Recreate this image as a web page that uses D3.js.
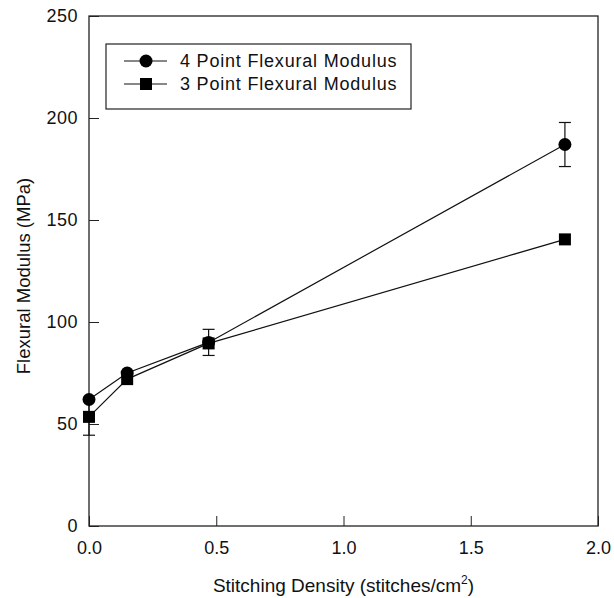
<!DOCTYPE html>
<html lang="en">
<head>
  <meta charset="UTF-8">
  <title>Flexural Modulus</title>
  <script src="https://cdn.jsdelivr.net/npm/d3@7"></script>
</head>
<body style="margin:0; background-color:#fff;">
<script>
  // stitching density (stitches/cm2)
  const density = [0.0, 0.15, 0.47, 1.87];
  // 4 point flexural modulus (MPa) and its error
  const fourPoint = [62, 75, 90, 187];
  const fourPointErr = [0, 0, 6.4, 10.8];
  // 3 point flexural modulus (MPa) and its error
  const threePoint = [53.5, 72, 89.5, 140.5];
  const threePointErr = [9, 0, 0, 0];
  const seriesNames = ["4 Point Flexural Modulus", "3 Point Flexural Modulus"];
  const xTicks = [0, 0.5, 1.0, 1.5, 2.0];
  const yTicks = [0, 50, 100, 150, 200, 250];

  const width = 614;
  const height = 598;
  const plotLeft = 89, plotRight = 598, plotTop = 16, plotBottom = 526;
  const font = "'Liberation Sans', Arial, sans-serif";

  const xScale = d3.scaleLinear().domain([0, 2]).range([plotLeft, plotRight]);
  const yScale = d3.scaleLinear().domain([0, 250]).range([plotBottom, plotTop]);

  const svg = d3.select("body")
    .append("svg")
    .attr("width", width)
    .attr("height", height)
    .style("display", "block")
    .style("font-family", font);

  // frame
  svg.append("rect")
    .attr("x", plotLeft)
    .attr("y", plotTop)
    .attr("width", plotRight - plotLeft)
    .attr("height", plotBottom - plotTop)
    .attr("fill", "none")
    .attr("stroke", "#222")
    .attr("stroke-width", 1.3);

  const xAxis = svg.append("g")
    .attr("transform", `translate(0, ${plotBottom})`)
    .call(d3.axisBottom(xScale).tickValues(xTicks).tickFormat(d3.format(".1f"))
      .tickSizeInner(-10).tickSizeOuter(0).tickPadding(15));
  xAxis.select(".domain").remove();
  xAxis.selectAll("line").attr("stroke", "#222");
  xAxis.selectAll("text")
    .attr("fill", "#111")
    .style("font-size", "18px")
    .style("font-family", font);

  const yAxis = svg.append("g")
    .attr("transform", `translate(${plotLeft}, 0)`)
    .call(d3.axisLeft(yScale).tickValues(yTicks)
      .tickSizeInner(-10).tickSizeOuter(0).tickPadding(11));
  yAxis.select(".domain").remove();
  yAxis.selectAll("line").attr("stroke", "#222");
  yAxis.selectAll("text")
    .attr("fill", "#111")
    .style("font-size", "18px")
    .style("letter-spacing", "0.5px")
    .style("font-family", font);

  // axis titles
  const xTitle = svg.append("text")
    .attr("x", (plotLeft + plotRight) / 2)
    .attr("y", 592)
    .attr("text-anchor", "middle")
    .attr("fill", "#111")
    .style("font-size", "19px");
  xTitle.append("tspan").text("Stitching Density (stitches/cm");
  xTitle.append("tspan").attr("dy", -8).style("font-size", "12px").text("2");
  xTitle.append("tspan").attr("dy", 8).text(")");

  svg.append("text")
    .attr("transform", `translate(30, 276) rotate(-90)`)
    .attr("text-anchor", "middle")
    .attr("fill", "#111")
    .style("font-size", "18.5px")
    .text("Flexural Modulus (MPa)");

  const line = d3.line().x(d => xScale(d[0])).y(d => yScale(d[1]));
  const four = density.map((d, i) => [d, fourPoint[i], fourPointErr[i]]);
  const three = density.map((d, i) => [d, threePoint[i], threePointErr[i]]);

  [four, three].forEach(series => {
    svg.append("path")
      .datum(series)
      .attr("d", line)
      .attr("fill", "none")
      .attr("stroke", "#111")
      .attr("stroke-width", 1.2);

    const errs = svg.append("g")
      .selectAll("g")
      .data(series.filter(d => d[2] > 0))
      .enter()
      .append("g")
      .attr("stroke", "#111")
      .attr("stroke-width", 1.2);
    errs.append("line")
      .attr("x1", d => xScale(d[0])).attr("x2", d => xScale(d[0]))
      .attr("y1", d => yScale(d[1] - d[2])).attr("y2", d => yScale(d[1] + d[2]));
    errs.append("line")
      .attr("x1", d => xScale(d[0]) - 6).attr("x2", d => xScale(d[0]) + 6)
      .attr("y1", d => yScale(d[1] - d[2])).attr("y2", d => yScale(d[1] - d[2]));
    errs.append("line")
      .attr("x1", d => xScale(d[0]) - 6).attr("x2", d => xScale(d[0]) + 6)
      .attr("y1", d => yScale(d[1] + d[2])).attr("y2", d => yScale(d[1] + d[2]));
  });

  svg.append("g")
    .selectAll("circle")
    .data(four)
    .enter()
    .append("circle")
    .attr("cx", d => xScale(d[0]))
    .attr("cy", d => yScale(d[1]))
    .attr("r", 6.5)
    .attr("fill", "#000");

  svg.append("g")
    .selectAll("rect")
    .data(three)
    .enter()
    .append("rect")
    .attr("x", d => xScale(d[0]) - 6)
    .attr("y", d => yScale(d[1]) - 6)
    .attr("width", 12)
    .attr("height", 12)
    .attr("fill", "#000");

  // legend
  const legend = svg.append("g").attr("transform", "translate(106, 44)");
  legend.append("rect")
    .attr("width", 305)
    .attr("height", 65)
    .attr("fill", "#fff")
    .attr("stroke", "#222")
    .attr("stroke-width", 1.2);
  const rows = legend.selectAll("g")
    .data(seriesNames)
    .enter()
    .append("g")
    .attr("transform", (d, i) => `translate(0, ${17 + i * 23})`);
  rows.append("line")
    .attr("x1", 18).attr("x2", 61)
    .attr("stroke", "#111")
    .attr("stroke-width", 1.2);
  rows.filter((d, i) => i === 0).append("circle")
    .attr("cx", 40).attr("r", 6.5).attr("fill", "#000");
  rows.filter((d, i) => i === 1).append("rect")
    .attr("x", 34).attr("y", -6).attr("width", 12).attr("height", 12).attr("fill", "#000");
  rows.append("text")
    .attr("x", 74)
    .attr("dy", "0.35em")
    .attr("fill", "#111")
    .style("font-size", "18px")
    .style("letter-spacing", "0.8px")
    .text(d => d);
</script>
</body>
</html>
